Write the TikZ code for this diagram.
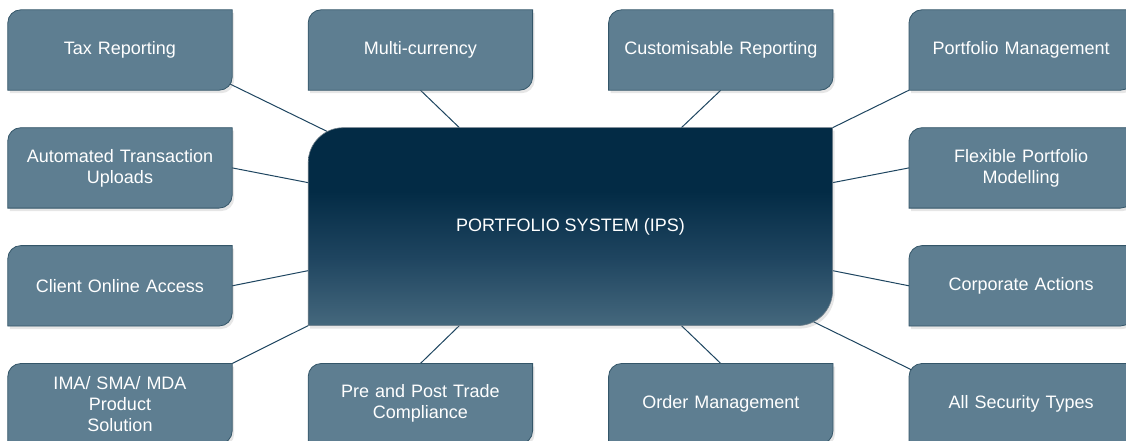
\documentclass[tikz,border=0pt]{standalone}
\usepackage{fontspec}
\setmainfont{Liberation Sans}
\usetikzlibrary{positioning, backgrounds, shadows}

\definecolor{leaffill}{HTML}{5E7E91}
\definecolor{leafedge}{HTML}{345669}
\definecolor{linkcol}{HTML}{1E4560}
\definecolor{hubtop}{HTML}{032B45}
\definecolor{hubmid}{HTML}{1F4560}
\definecolor{hubbot}{HTML}{45687D}
\definecolor{hubedge}{HTML}{6F7F8A}

\pgfdeclareverticalshading{hubshade}{100bp}{color(0bp)=(hubbot); color(25bp)=(hubbot); color(42bp)=(hubmid); color(59bp)=(hubtop); color(100bp)=(hubtop)}

\tikzset{
    leaf/.style={minimum width=224pt, minimum height=80pt, text width=210pt, align=center,
        inner sep=0pt, text=white, font=\fontsize{18pt}{21pt}\selectfont},
    hub/.style={minimum width=524pt, minimum height=197.5pt, inner sep=0pt,
        text=white, font=\fontsize{18pt}{21pt}\selectfont},
    leafbody/.style={fill=leaffill, draw=leafedge, line width=0.8pt,
        drop shadow={shadow xshift=2pt, shadow yshift=-3pt, opacity=0.2}},
    hubbody/.style={shade, shading=hubshade, draw=hubedge, line width=0.6pt,
        drop shadow={shadow xshift=2pt, shadow yshift=-3pt, opacity=0.2}},
    link/.style={draw=linkcol, line width=1pt}
}

\begin{document}
\begin{tikzpicture}[x=1pt, y=1pt, node distance=37.5pt and 76pt]
\useasboundingbox (-120,-391) rectangle (1006,50);

    % Nodes
    \node (tax) [leaf] {Tax Reporting};
    \node [right=of tax] (multi) [leaf] {Multi-currency};
    \node [right=of multi] (custom) [leaf] {Customisable Reporting};
    \node [right=of custom] (pfmgmt) [leaf] {Portfolio Management};

    \node [below=of tax] (upload) [leaf] {Automated Transaction\\Uploads};
    \node [below=of upload] (online) [leaf] {Client Online Access};
    \node [below=of online] (product) [leaf] {IMA/ SMA/ MDA\\Product\\Solution};
    \node [right=of product] (compl) [leaf] {Pre and Post Trade\\Compliance};
    \node [right=of compl] (order) [leaf] {Order Management};

    \node [below=of pfmgmt] (model) [leaf] {Flexible Portfolio\\Modelling};
    \node [below=of model] (corp) [leaf] {Corporate Actions};
    \node [below=of corp] (secty) [leaf] {All Security Types};

    \node [below right=of tax] (ips) [hub] {PORTFOLIO SYSTEM (IPS)};

    \begin{scope}[on background layer]
    % Connectors (behind the boxes)
    \draw [link] ([shift={(-10pt,10pt)}]tax.south east) -- ([shift={(42pt,-15pt)}]ips.north west);
    \draw [link] (multi.south) -- ([xshift=-111pt]ips.north);
    \draw [link] (custom.south) -- ([xshift=111pt]ips.north);
    \draw [link] (pfmgmt.south west) -- (ips.north east);
    \draw [link] (upload.east) -- ([yshift=44pt]ips.west);
    \draw [link] (online.east) -- ([yshift=-44pt]ips.west);
    \draw [link] (model.west) -- ([yshift=44pt]ips.east);
    \draw [link] (corp.west) -- ([yshift=-44pt]ips.east);
    \draw [link] (product.north east) -- (ips.south west);
    \draw [link] (compl.north) -- ([xshift=-111pt]ips.south);
    \draw [link] (order.north) -- ([xshift=111pt]ips.south);
    \draw [link] ([shift={(10pt,-10pt)}]secty.north west) -- ([shift={(-42pt,15pt)}]ips.south east);

    % Box bodies, round top left and bottom right
    \foreach \n in {tax, multi, custom, pfmgmt, upload, online, product, compl, order, model, corp, secty}
        \path [leafbody] (\n.south west) -- ([yshift=-13pt]\n.north west)
            arc [start angle=180, end angle=90, radius=13pt] -- (\n.north east)
            -- ([yshift=13pt]\n.south east) arc [start angle=0, end angle=-90, radius=13pt] -- cycle;
    \path [hubbody] (ips.south west) -- ([yshift=-35pt]ips.north west)
        arc [start angle=180, end angle=90, radius=35pt] -- (ips.north east)
        -- ([yshift=35pt]ips.south east) arc [start angle=0, end angle=-90, radius=35pt] -- cycle;
    \end{scope}

\end{tikzpicture}
\end{document}
